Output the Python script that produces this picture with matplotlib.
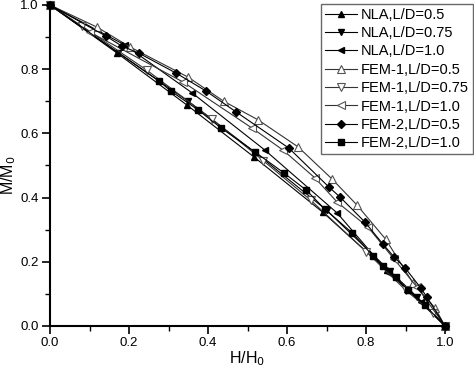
import matplotlib
matplotlib.use('Agg')

import numpy as np
from matplotlib import pyplot as plt
from matplotlib.ticker import MultipleLocator, FormatStrFormatter

plt.rcParams['font.family'] = ['Liberation Sans', 'DejaVu Sans']

# NLA results
x_nla05 = [0.0, 0.17, 0.347, 0.516, 0.69, 0.853, 0.903, 1.0]
y_nla05 = [1.0, 0.85, 0.688, 0.527, 0.355, 0.174, 0.115, 0.0]
x_nla075 = [0.0, 0.172, 0.35, 0.52, 0.70, 0.86, 0.93, 1.0]
y_nla075 = [1.0, 0.852, 0.70, 0.54, 0.361, 0.172, 0.09, 0.0]
x_nla10 = [0.0, 0.19, 0.36, 0.544, 0.727, 0.858, 0.94, 1.0]
y_nla10 = [1.0, 0.875, 0.726, 0.548, 0.352, 0.165, 0.075, 0.0]

# FEM-1 results
x_fem1_05 = [0.0, 0.119, 0.203, 0.35, 0.44, 0.527, 0.628, 0.714, 0.777, 0.85, 0.919, 0.975, 1.0]
y_fem1_05 = [1.0, 0.931, 0.869, 0.775, 0.70, 0.642, 0.558, 0.458, 0.377, 0.27, 0.134, 0.056, 0.0]
x_fem1_075 = [0.0, 0.08, 0.245, 0.41, 0.54, 0.66, 0.80, 0.90, 0.97, 1.0]
y_fem1_075 = [1.0, 0.935, 0.797, 0.645, 0.515, 0.392, 0.232, 0.112, 0.04, 0.0]
x_fem1_10 = [0.0, 0.10, 0.337, 0.511, 0.59, 0.671, 0.727, 0.805, 0.87, 0.93, 1.0]
y_fem1_10 = [1.0, 0.916, 0.760, 0.617, 0.548, 0.461, 0.386, 0.308, 0.21, 0.12, 0.0]

# FEM-2 results
x_fem2_05 = [0.0, 0.142, 0.182, 0.225, 0.319, 0.395, 0.471, 0.605, 0.706, 0.734, 0.797, 0.843, 0.871, 0.899, 0.939, 0.954, 1.0]
y_fem2_05 = [1.0, 0.903, 0.872, 0.850, 0.788, 0.732, 0.667, 0.554, 0.433, 0.402, 0.324, 0.255, 0.215, 0.181, 0.118, 0.090, 0.0]
x_fem2_10 = [0.0, 0.276, 0.306, 0.375, 0.433, 0.519, 0.592, 0.648, 0.696, 0.765, 0.818, 0.843, 0.876, 0.906, 0.949, 1.0]
y_fem2_10 = [1.0, 0.763, 0.732, 0.673, 0.617, 0.542, 0.477, 0.424, 0.364, 0.290, 0.218, 0.187, 0.153, 0.112, 0.065, 0.0]

fig = plt.figure(figsize=(4.74, 3.68), dpi=100)
ax = fig.add_axes([50/474, 1-326/368, 395/474, 321/368])

lw = 0.8
ms = 5
ax.plot(x_nla05, y_nla05, '-', color='k', lw=lw, marker='^', ms=ms, mfc='k', mec='k', label='NLA,L/D=0.5')
ax.plot(x_nla075, y_nla075, '-', color='k', lw=lw, marker='v', ms=ms, mfc='k', mec='k', label='NLA,L/D=0.75')
ax.plot(x_nla10, y_nla10, '-', color='k', lw=lw, marker='<', ms=ms, mfc='k', mec='k', label='NLA,L/D=1.0')
ax.plot(x_fem1_05, y_fem1_05, '-', color='#333333', lw=lw, marker='^', ms=ms+1, mfc='white', mec='#555555', mew=0.8, label='FEM-1,L/D=0.5')
ax.plot(x_fem1_075, y_fem1_075, '-', color='#333333', lw=lw, marker='v', ms=ms+1, mfc='white', mec='#555555', mew=0.8, label='FEM-1,L/D=0.75')
ax.plot(x_fem1_10, y_fem1_10, '-', color='#333333', lw=lw, marker='<', ms=ms+1, mfc='white', mec='#555555', mew=0.8, label='FEM-1,L/D=1.0')
ax.plot(x_fem2_05, y_fem2_05, '-', color='k', lw=lw, marker='D', ms=ms-0.5, mfc='k', mec='k', label='FEM-2,L/D=0.5')
ax.plot(x_fem2_10, y_fem2_10, '-', color='k', lw=lw, marker='s', ms=ms-0.5, mfc='k', mec='k', label='FEM-2,L/D=1.0')

ax.set_xlim(0, 1.0)
ax.set_ylim(0, 1.0)
ax.xaxis.set_major_locator(MultipleLocator(0.2))
ax.xaxis.set_minor_locator(MultipleLocator(0.1))
ax.yaxis.set_major_locator(MultipleLocator(0.2))
ax.yaxis.set_minor_locator(MultipleLocator(0.1))
ax.xaxis.set_major_formatter(FormatStrFormatter('%.1f'))
ax.yaxis.set_major_formatter(FormatStrFormatter('%.1f'))
ax.spines['top'].set_visible(False)
ax.spines['right'].set_visible(False)
ax.spines['left'].set_linewidth(1.5)
ax.spines['bottom'].set_linewidth(1.5)
ax.tick_params(which='major', direction='out', length=6, width=1.2, labelsize=9.5, pad=2)
ax.tick_params(which='minor', direction='out', length=3.5, width=1.0)
for line in ax.lines:
    line.set_clip_on(False)

# axis titles sit tight against the tick labels in the original
fig.text(247/474, 1-359/368, 'H/H$_0$', fontsize=11.5, ha='center', va='center')
fig.text(9/474, 1-175/368, 'M/M$_0$', fontsize=11.5, ha='center', va='center', rotation=90)

leg = fig.legend(loc='upper left', bbox_to_anchor=(321/474, 1-4/368), bbox_transform=fig.transFigure,
                 fontsize=10.5, frameon=True, fancybox=False, edgecolor='#444444',
                 handlelength=2.2, handletextpad=0.3, labelspacing=0.3, borderpad=0.25, borderaxespad=0)
leg.get_frame().set_linewidth(1.0)

plt.savefig('out.png', dpi=100)
